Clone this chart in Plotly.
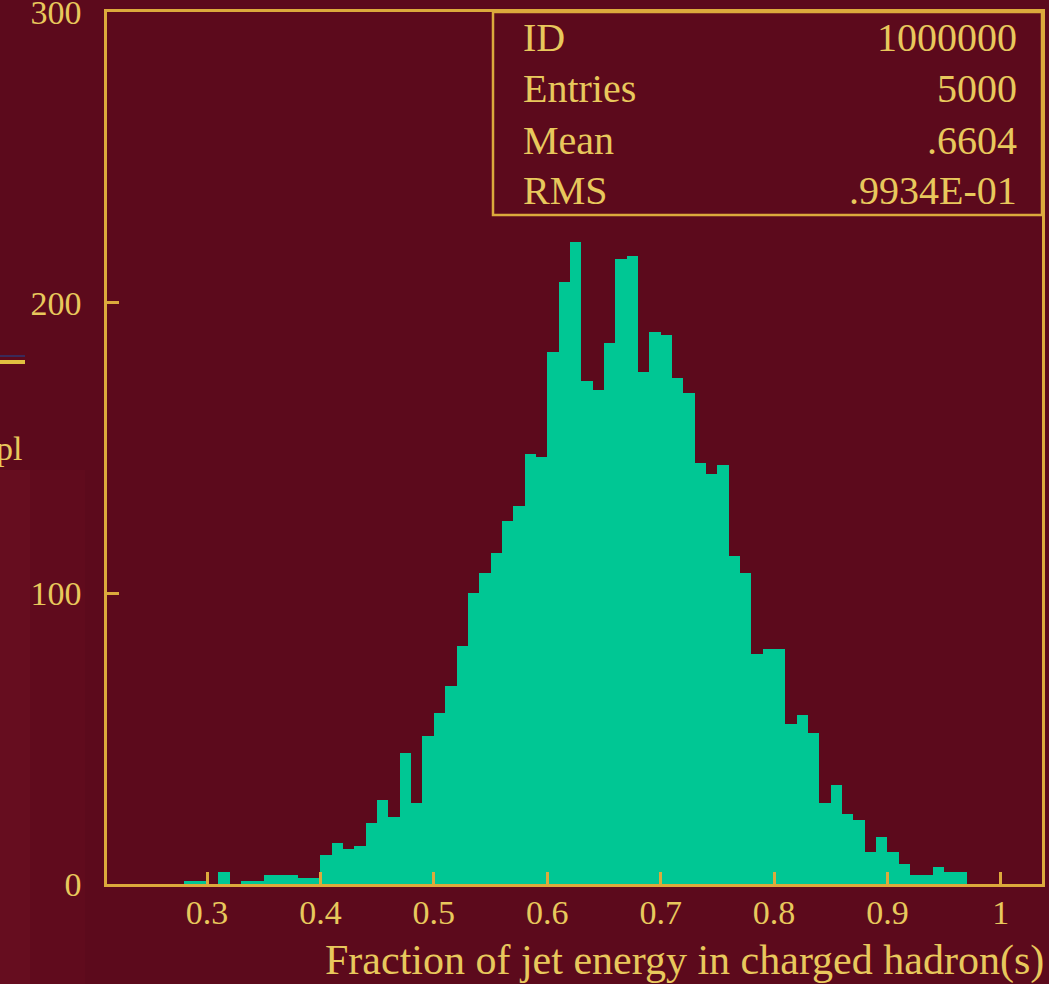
import plotly.graph_objects as go

# Histogram of the charged-hadron energy fraction, 0.01-wide bins
bin_left = [round(0.28 + 0.01 * i, 2) for i in range(69)]
counts = [
    1, 1, 0, 4, 0, 1, 1, 3, 3, 3, 2, 2,          # 0.28 - 0.39
    10, 14, 12, 13, 21,                           # 0.40 - 0.44
    29, 23, 45, 28, 51,                           # 0.45 - 0.49
    59, 68, 82, 100, 107,                         # 0.50 - 0.54
    114, 125, 130, 148, 147,                      # 0.55 - 0.59
    183, 207, 221, 173, 170,                      # 0.60 - 0.64
    186, 215, 216, 176, 190,                      # 0.65 - 0.69
    189, 174, 169, 145, 141,                      # 0.70 - 0.74
    144, 113, 107, 79, 81,                        # 0.75 - 0.79
    81, 55, 58, 52, 28,                           # 0.80 - 0.84
    34, 24, 22, 11, 16,                           # 0.85 - 0.89
    11, 7, 3, 3, 6, 4, 4,                         # 0.90 - 0.96
]
bin_width = 0.01

x_ticks = [0.3, 0.4, 0.5, 0.6, 0.7, 0.8, 0.9, 1.0]
x_tick_text = ["0.3", "0.4", "0.5", "0.6", "0.7", "0.8", "0.9", "1"]
y_ticks = [0, 100, 200, 300]
y_tick_text = ["0", "100", "200", "300"]

stat_names = ["ID", "Entries", "Mean", "RMS"]
stat_values = ["1000000", "5000", ".6604", ".9934E-01"]

x_title = "Fraction of jet energy in charged hadron(s)"

BG = "#5c0a1c"
BAR = "#00c794"
GOLD = "#dcaa3c"
TEXT = "#e8c85c"
FONT = "Liberation Serif"

centers = [b + bin_width / 2 for b in bin_left]

fig = go.Figure()
fig.add_trace(go.Bar(
    x=centers, y=counts, width=bin_width,
    marker=dict(color=BAR, line=dict(width=0)),
    hoverinfo="skip", showlegend=False,
))

W, H = 1049, 984
L, R, T, B = 107, 7, 12, 100
PW, PH = W - L - R, H - T - B


def px_x(px):
    return (px - L) / PW


def px_y(py):
    return (H - B - py) / PH


fig.update_layout(
    width=W, height=H,
    margin=dict(l=L, r=R, t=T, b=B, autoexpand=False),
    paper_bgcolor=BG, plot_bgcolor=BG,
    bargap=0,
    font=dict(family=FONT, color=TEXT),
)
fig.update_xaxes(
    range=[0.2118, 1.0363], tickvals=x_ticks, ticktext=x_tick_text,
    ticks="inside", ticklen=12, tickwidth=2.5, tickcolor=GOLD,
    showline=True, linecolor=GOLD, linewidth=2.5, mirror=True,
    showgrid=False, zeroline=False,
    tickfont=dict(family=FONT, size=34, color=TEXT),
    ticklabelstandoff=-4,
)
fig.update_yaxes(
    range=[0, 300], tickvals=y_ticks, ticktext=y_tick_text,
    ticks="inside", ticklen=12, tickwidth=2.5, tickcolor=GOLD,
    showline=True, linecolor=GOLD, linewidth=2.5, mirror=True,
    showgrid=False, zeroline=False,
    tickfont=dict(family=FONT, size=34, color=TEXT),
    ticklabelstandoff=16, ticklabeloverflow="allow",
)

# Panel edge on the far left: reddish strip, a short rule and a clipped label
fig.add_shape(type="rect", xref="paper", yref="paper",
              x0=px_x(0), x1=px_x(30), y0=px_y(984), y1=px_y(470),
              line=dict(width=0), fillcolor="#660d1f", layer="below")
fig.add_shape(type="rect", xref="paper", yref="paper",
              x0=px_x(30), x1=px_x(85), y0=px_y(984), y1=px_y(470),
              line=dict(width=0), fillcolor="#600b1d", layer="below")
fig.add_shape(type="line", xref="paper", yref="paper",
              x0=px_x(0), x1=px_x(25), y0=px_y(362), y1=px_y(362),
              line=dict(color="#e0c040", width=4))
fig.add_shape(type="line", xref="paper", yref="paper",
              x0=px_x(0), x1=px_x(25), y0=px_y(356), y1=px_y(356),
              line=dict(color="#3a2a5a", width=2))
fig.add_annotation(xref="paper", yref="paper", x=px_x(24), y=px_y(448),
                   text="pl", showarrow=False, xanchor="right", yanchor="middle",
                   font=dict(family=FONT, size=34, color=TEXT))

# Statistics box in the upper right corner
fig.add_shape(type="rect", xref="paper", yref="paper",
              x0=px_x(493), x1=1.0, y0=px_y(215), y1=1.0,
              line=dict(color=GOLD, width=2.5), fillcolor=BG, layer="above")
row_py = [38, 88, 140, 190]
for name, val, py in zip(stat_names, stat_values, row_py):
    fig.add_annotation(xref="paper", yref="paper", x=px_x(521), y=px_y(py),
                       text=name, showarrow=False, xanchor="left", yanchor="middle",
                       font=dict(family=FONT, size=40, color=TEXT))
    fig.add_annotation(xref="paper", yref="paper", x=px_x(1019), y=px_y(py),
                       text=val, showarrow=False, xanchor="right", yanchor="middle",
                       font=dict(family=FONT, size=40, color=TEXT))

# Axis title, right-aligned under the frame
fig.add_annotation(xref="paper", yref="paper", x=px_x(1046), y=px_y(960),
                   text=x_title, showarrow=False, xanchor="right", yanchor="middle",
                   font=dict(family=FONT, size=42, color=TEXT))

fig.write_html("out.html")
